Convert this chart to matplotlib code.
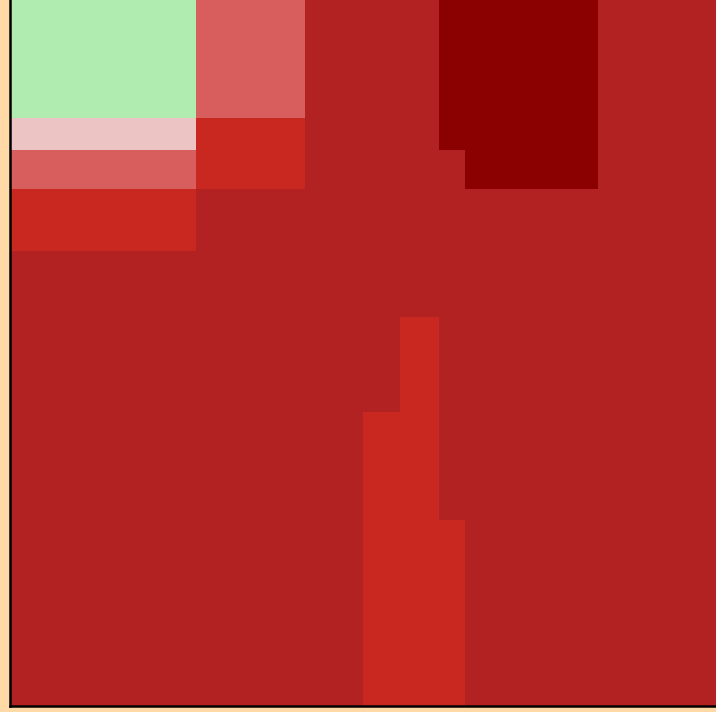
import numpy as np
import matplotlib
matplotlib.use("Agg")
import matplotlib.pyplot as plt
from matplotlib.colors import ListedColormap, BoundaryNorm

# cell boundaries (data units)
x_edges = [0, 186, 295, 353, 390, 429, 455, 588, 706]
y_edges = [0, 186, 294, 389, 455, 517, 556, 588, 706]

# category per cell, bottom row first
# 0 green, 1 pink, 2 salmon, 3 red, 4 firebrick, 5 darkred
levels = [
    [4, 4, 4, 3, 3, 3, 4, 4],
    [4, 4, 4, 3, 3, 4, 4, 4],
    [4, 4, 4, 4, 3, 4, 4, 4],
    [4, 4, 4, 4, 4, 4, 4, 4],
    [3, 4, 4, 4, 4, 4, 4, 4],
    [2, 3, 4, 4, 4, 4, 5, 4],
    [1, 3, 4, 4, 4, 5, 5, 4],
    [0, 2, 4, 4, 4, 5, 5, 4],
]
palette = ["#B0ECB0", "#ECC4C4", "#D85E5E", "#C8281F", "#B22222", "#8B0000"]

cmap = ListedColormap(palette)
norm = BoundaryNorm(np.arange(-0.5, len(palette)), cmap.N)

fig = plt.figure(figsize=(7.16, 7.12), dpi=100, facecolor="#FFDAA6")
ax = fig.add_axes([10 / 716, 6 / 712, 706 / 716, 706 / 712])
ax.pcolormesh(x_edges, y_edges, np.array(levels), cmap=cmap, norm=norm,
              shading="flat", antialiased=True)
ax.set_xlim(0, 706)
ax.set_ylim(0, 706)
ax.set_xticks([])
ax.set_yticks([])
for side in ("top", "right"):
    ax.spines[side].set_visible(False)
for side in ("left", "bottom"):
    ax.spines[side].set_linewidth(1.8)
    ax.spines[side].set_color("black")

fig.savefig("out.png", dpi=100, facecolor=fig.get_facecolor())
